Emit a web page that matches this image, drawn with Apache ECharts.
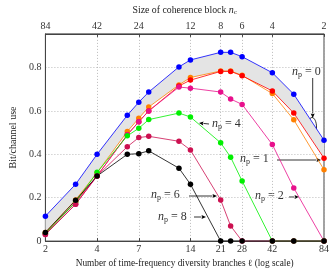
<!DOCTYPE html>
<html><head><meta charset="utf-8">
<script src="https://cdn.jsdelivr.net/npm/echarts@6/dist/echarts.min.js"></script>
<style>html,body{margin:0;padding:0;background:#fff}#c{width:335px;height:273px}</style>
</head><body><div id="c"></div>
<script>
const ells = [2,3,4,6,7,8,12,14,21,24,28,42,56,84];
const xTicks = [2,4,7,14,21,28,42,84];
const topNc = 168; // n_c = 168 / ell
const np0Upper = [0.115,0.262,0.40,0.58,0.64,0.687,0.803,0.835,0.87,0.87,0.85,0.776,0.677,0.465];
const np0Lower = [0.04,0.19,0.315,0.505,0.566,0.618,0.72,0.754,0.784,0.784,0.764,0.68,0.559,0.329];
const np1 = [0.035,0.18,0.30,0.49,0.55,0.60,0.715,0.742,0.782,0.782,0.762,0.692,0.59,0.382];
const np2 = [0.03,0.17,0.30,0.49,0.55,0.60,0.71,0.705,0.687,0.655,0.63,0.445,0.245,0];
const np4 = [0.035,0.18,0.317,0.485,0.52,0.56,0.59,0.572,0.453,0.387,0.277,0,0,0];
const np6 = [0.03,0.17,0.30,0.435,0.477,0.483,0.46,0.42,0.19,0.07,0,0,0,0];
const np8 = [0.04,0.188,0.30,0.40,0.403,0.416,0.336,0.262,0,0,0,0,0,0];

const FF = 'Liberation Serif';
const chart = echarts.init(document.getElementById('c'));
const pairs = a => ells.map((e,i)=>[e,a[i]]);
function line(name, arr, color){
  return {type:'line', name, data:pairs(arr), symbol:'circle', symbolSize:5.5,
    lineStyle:{width:0.8,color}, itemStyle:{color}, animation:false, z:3};
}
const bandLow = np0Lower.map((v,i)=>Math.max(v,np1[i]));
function arrow(x1,y1,x2,y2){
  const dx=x2-x1, dy=y2-y1, L=Math.hypot(dx,dy), ux=dx/L, uy=dy/L;
  const hl=4.5, hw=2;
  const bx=x2-ux*hl, by=y2-uy*hl;
  return {type:'group', children:[
    {type:'line', shape:{x1,y1,x2:bx,y2:by}, style:{stroke:'#000',lineWidth:0.8}},
    {type:'polygon', shape:{points:[[x2,y2],[bx-uy*hw,by+ux*hw],[bx+ux*0.8,by+uy*0.8],[bx+uy*hw,by-ux*hw]]}, style:{fill:'#000'}}
  ]};
}
function lab(x,y,num){
  return {type:'text', x, y, style:{text:'{i|n}{s|p}{t| = '+num+'}', fill:'#333',
    rich:{i:{fontFamily:FF,fontStyle:'italic',fontSize:12,fill:'#333'},
          s:{fontFamily:FF,fontSize:8,padding:[6,0,0,0],fill:'#333'},
          t:{fontFamily:FF,fontSize:12,fill:'#333'}}, verticalAlign:'middle'}};
}
const option = {
  animation:false,
  grid:{left:40,right:11,top:28,bottom:30,show:true,borderColor:'#444',borderWidth:1},
  xAxis:[
    {type:'log', logBase:10, min:2, max:84, position:'bottom',
     name:'Number of time-frequency diversity branches ℓ (log scale)', nameLocation:'middle', nameGap:16,
     nameTextStyle:{fontFamily:FF,fontSize:9.3,color:'#222'},
     axisLine:{lineStyle:{color:'#444'}},
     axisTick:{show:true,inside:true,length:3,customValues:xTicks,lineStyle:{color:'#444'}},
     axisLabel:{customValues:xTicks,fontFamily:FF,fontSize:10,color:'#333',margin:3,formatter:v=>String(Math.round(v))},
     splitLine:{show:true,lineStyle:{color:'#aaa',type:[1,2],width:0.8}},
     minorTick:{show:false}},
    {type:'log', logBase:10, min:2, max:84, position:'top',
     name:'Size of coherence block {i|n}{s|c}', nameLocation:'middle', nameGap:17,
     nameTextStyle:{fontFamily:FF,fontSize:9.8,color:'#222',
       rich:{i:{fontFamily:FF,fontStyle:'italic',fontSize:10},s:{fontFamily:FF,fontSize:7,padding:[5,0,0,0]}}},
     axisLine:{lineStyle:{color:'#444'}},
     axisTick:{show:true,inside:true,length:3,customValues:xTicks,lineStyle:{color:'#444'}},
     axisLabel:{customValues:xTicks,fontFamily:FF,fontSize:10,color:'#333',margin:3,formatter:v=>String(Math.round(topNc/v))},
     splitLine:{show:false}}
  ],
  yAxis:{type:'value', min:0, max:0.955, interval:0.2,
    name:'Bit/channel use', nameLocation:'middle', nameGap:26, nameRotate:90,
    nameTextStyle:{fontFamily:FF,fontSize:10,color:'#222'},
    axisLine:{show:true,lineStyle:{color:'#444'}},
    axisTick:{show:false},
    axisLabel:{fontFamily:FF,fontSize:10,color:'#333',margin:4,
      formatter:v=>{const k=v/0.2; if(Math.abs(k-Math.round(k))>1e-6||v>0.9) return ''; return v===0?'0':v.toFixed(1);}},
    splitLine:{show:true,lineStyle:{color:'#aaa',type:[1,2],width:0.8}}},
  series:[
    {type:'custom', data:[[2,0]], clip:false, z:1, silent:true,
     renderItem:(params,api)=>{
       if(params.dataIndex!==0) return null;
       const up = ells.map((e,i)=>api.coord([e,np0Upper[i]]));
       const lo = ells.map((e,i)=>api.coord([e,bandLow[i]])).reverse();
       return {type:'polygon', shape:{points:up.concat(lo)}, style:{fill:'#e4e4e4',stroke:'none'}};
     }},
    line('up', np0Upper, '#0000ff'),
    line('low', np0Lower, '#ff8000'),
    line('np1', np1, '#ff0000'),
    line('np2', np2, '#e8108c'),
    line('np4', np4, '#00f000'),
    line('np6', np6, '#cc1050'),
    line('np8', np8, '#000000')
  ],
  graphic:[
    lab(292,72,'0'), arrow(312.7,78,312.7,118),
    {type:'ellipse', shape:{cx:312,cy:127,rx:4.5,ry:9.5}, style:{fill:'none',stroke:'#000',lineWidth:0.8}},
    lab(240,159,'1'), arrow(277,160,321,160),
    lab(255,196,'2'), arrow(289,197,299,197),
    lab(212,124,'4'), arrow(209,124,199,123),
    lab(151,195,'6'), arrow(189,196,217,196),
    lab(158,217,'8'), arrow(194,217,206,217)
  ]
};
chart.setOption(option);
</script></body></html>
